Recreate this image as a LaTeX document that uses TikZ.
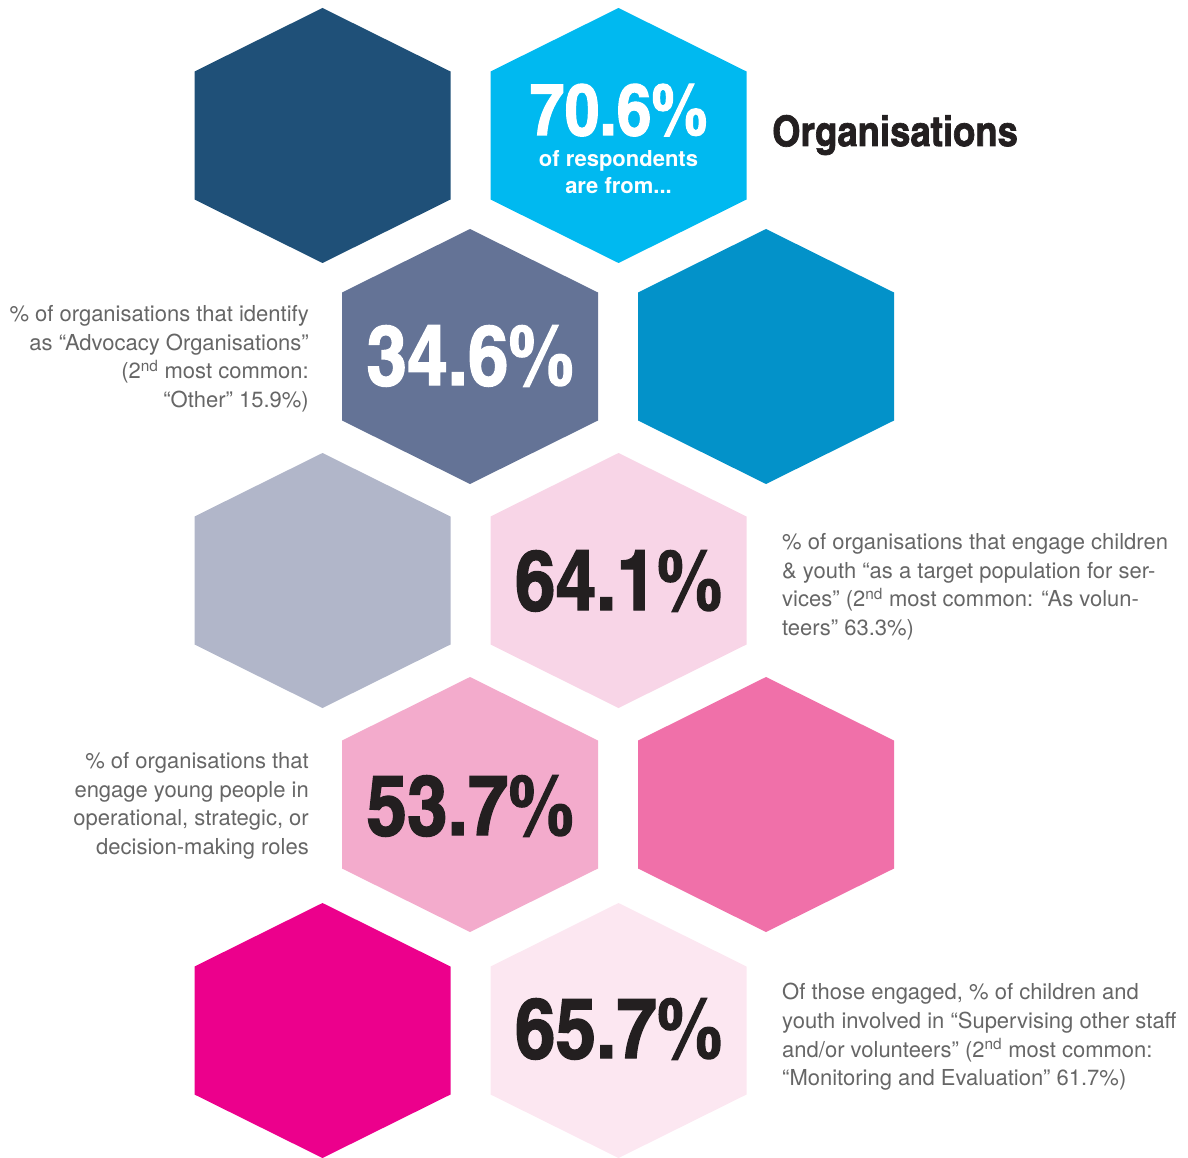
\documentclass[tikz,border=0pt]{standalone}
\usepackage{fontspec}
\setmainfont{TeX Gyre Heros}
\newfontfamily\condfont{texgyreheroscn}[Extension=.otf, UprightFont=*-bold, BoldFont=*-bold, FakeStretch=1.06, FakeBold=1.6]

\definecolor{hexnavy}{HTML}{1F5078}
\definecolor{hexcyan}{HTML}{00B9F0}
\definecolor{hexslate}{HTML}{647396}
\definecolor{hexblue}{HTML}{0392C9}
\definecolor{hexgrey}{HTML}{B1B6C9}
\definecolor{hexblush}{HTML}{F8D5E7}
\definecolor{hexrose}{HTML}{F3ABCC}
\definecolor{hexpink}{HTML}{F070A9}
\definecolor{hexmagenta}{HTML}{EC008C}
\definecolor{hexpale}{HTML}{FCE7F1}
\definecolor{numblack}{HTML}{231F20}
\definecolor{blurbgrey}{HTML}{666666}

\tikzset{
  hexa/.pic={\fill (0,-127.5) -- (128,-64) -- (128,64) -- (0,127.5) -- (-128,64) -- (-128,-64) -- cycle;},
  bignum/.style={font=\condfont\fontsize{84}{84}\selectfont, text=numblack, anchor=base, inner sep=0pt},
  subline/.style={font=\bfseries\fontsize{22}{22}\selectfont, text=white, anchor=base, inner sep=0pt},
  blurb/.style={font=\fontsize{22}{28.7}\selectfont, text=blurbgrey, inner sep=0pt},
}

\begin{document}
\begin{tikzpicture}[x=1pt, y=-1pt]
\useasboundingbox (0,0) rectangle (1188,1158);

\foreach \name/\cx/\cy/\col in {navy/322.5/135.5/hexnavy, cyan/618.5/135.5/hexcyan,
    slate/470/356.5/hexslate, blue/766/356.5/hexblue,
    grey/322.5/580.5/hexgrey, blush/618.5/580.5/hexblush,
    rose/470/804.5/hexrose, pink/766/804.5/hexpink,
    magenta/322.5/1030.5/hexmagenta, pale/618.5/1030.5/hexpale}{
  \coordinate (\name) at (\cx,\cy);
  \pic[fill=\col] at (\name) {hexa};
}

\node[bignum, text=white, font=\condfont\fontsize{72}{72}\selectfont] (respondents) at (618.5,135) {70.6\%};
\node[subline] (respondents-a) at (618.5,167) {of respondents};
\node[subline] (respondents-b) at (618.5,194) {are from...};
\node[font=\condfont\fontsize{42}{42}\selectfont, text=numblack, anchor=base west, inner sep=0pt] (title) at (772,146) {Organisations};

\node[bignum, text=white] (advocacy) at (470,385) {34.6\%};
\node[bignum] (services) at (618.5,610) {64.1\%};
\node[bignum] (roles) at (470,835) {53.7\%};
\node[bignum] (supervising) at (618.5,1058) {65.7\%};

\node[blurb, anchor=north east, align=right] (advocacy-text) at (309,305)
  {\% of organisations that identify\\ as “Advocacy Organisations”\\ (2\textsuperscript{nd} most common:\\ “Other” 15.9\%)};
\node[blurb, anchor=north west, align=left] (services-text) at (782,533)
  {\% of organisations that engage children\\ \& youth “as a target population for ser-\\ vices” (2\textsuperscript{nd} most common: “As volun-\\ teers” 63.3\%)};
\node[blurb, anchor=north east, align=right] (roles-text) at (309,752)
  {\% of organisations that\\ engage young people in\\ operational, strategic, or\\ decision-making roles};
\node[blurb, anchor=north west, align=left] (supervising-text) at (782,983)
  {Of those engaged, \% of children and\\ youth involved in “Supervising other staff\\ and/or volunteers” (2\textsuperscript{nd} most common:\\ “Monitoring and Evaluation” 61.7\%)};
\end{tikzpicture}
\end{document}
